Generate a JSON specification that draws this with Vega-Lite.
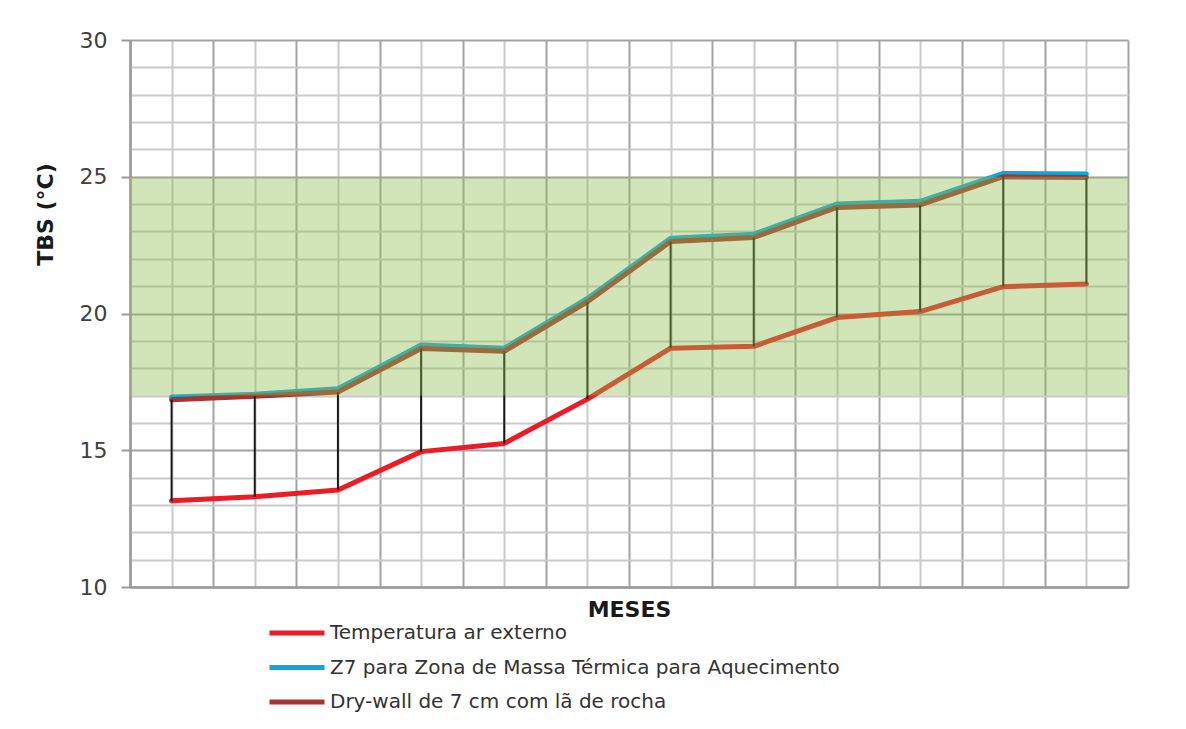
{
  "$schema": "https://vega.github.io/schema/vega-lite/v6.json",
  "autosize": "none",
  "width": 998,
  "height": 547,
  "padding": {"left": 130, "top": 40, "right": 58, "bottom": 142},
  "background": "white",
  "config": {
    "view": {"stroke": null},
    "font": "DejaVu Sans",
    "axis": {"labelOverlap": false}
  },
  "data": {
    "values": [
      {"mes": 1, "Temperatura ar externo": 13.15, "Z7 para Zona de Massa Térmica para Aquecimento": 16.95, "Dry-wall de 7 cm com lã de rocha": 16.85},
      {"mes": 2, "Temperatura ar externo": 13.3, "Z7 para Zona de Massa Térmica para Aquecimento": 17.05, "Dry-wall de 7 cm com lã de rocha": 16.97},
      {"mes": 3, "Temperatura ar externo": 13.55, "Z7 para Zona de Massa Térmica para Aquecimento": 17.25, "Dry-wall de 7 cm com lã de rocha": 17.13},
      {"mes": 4, "Temperatura ar externo": 14.95, "Z7 para Zona de Massa Térmica para Aquecimento": 18.85, "Dry-wall de 7 cm com lã de rocha": 18.72},
      {"mes": 5, "Temperatura ar externo": 15.25, "Z7 para Zona de Massa Térmica para Aquecimento": 18.73, "Dry-wall de 7 cm com lã de rocha": 18.62},
      {"mes": 6, "Temperatura ar externo": 16.87, "Z7 para Zona de Massa Térmica para Aquecimento": 20.55, "Dry-wall de 7 cm com lã de rocha": 20.43},
      {"mes": 7, "Temperatura ar externo": 18.73, "Z7 para Zona de Massa Térmica para Aquecimento": 22.75, "Dry-wall de 7 cm com lã de rocha": 22.63},
      {"mes": 8, "Temperatura ar externo": 18.8, "Z7 para Zona de Massa Térmica para Aquecimento": 22.9, "Dry-wall de 7 cm com lã de rocha": 22.78},
      {"mes": 9, "Temperatura ar externo": 19.85, "Z7 para Zona de Massa Térmica para Aquecimento": 24.0, "Dry-wall de 7 cm com lã de rocha": 23.88},
      {"mes": 10, "Temperatura ar externo": 20.07, "Z7 para Zona de Massa Térmica para Aquecimento": 24.1, "Dry-wall de 7 cm com lã de rocha": 23.97},
      {"mes": 11, "Temperatura ar externo": 20.98, "Z7 para Zona de Massa Térmica para Aquecimento": 25.12, "Dry-wall de 7 cm com lã de rocha": 25.0},
      {"mes": 12, "Temperatura ar externo": 21.08, "Z7 para Zona de Massa Térmica para Aquecimento": 25.1, "Dry-wall de 7 cm com lã de rocha": 24.97}
    ]
  },
  "layer": [
    {
      "transform": [
        {"fold": ["Temperatura ar externo", "Z7 para Zona de Massa Térmica para Aquecimento", "Dry-wall de 7 cm com lã de rocha"], "as": ["serie", "valor"]}
      ],
      "mark": {"type": "line", "strokeWidth": 5, "strokeCap": "round", "strokeJoin": "round"},
      "encoding": {
        "x": {
          "field": "mes", "type": "quantitative",
          "scale": {"domain": [0.5, 12.5], "nice": false, "zero": false},
          "axis": {
            "values": [0.5, 1, 1.5, 2, 2.5, 3, 3.5, 4, 4.5, 5, 5.5, 6, 6.5, 7, 7.5, 8, 8.5, 9, 9.5, 10, 10.5, 11, 11.5, 12, 12.5],
            "tickCount": 100,
            "labels": false, "ticks": false,
            "grid": true,
            "gridColor": {"condition": {"test": "floor(datum.value) != datum.value", "value": "#a3a3a6"}, "value": "#cacacc"},
            "gridWidth": 2,
            "domainColor": "#9a9a9d", "domainWidth": 2.5,
            "title": "MESES",
            "titleFont": "DejaVu Sans", "titleFontSize": 22, "titleFontWeight": "bold", "titleColor": "#1a1a1a",
            "titlePadding": 12
          }
        },
        "y": {
          "field": "valor", "type": "quantitative",
          "scale": {"domain": [10, 30], "nice": false, "zero": false},
          "axis": {
            "values": [10, 11, 12, 13, 14, 15, 16, 17, 18, 19, 20, 21, 22, 23, 24, 25, 26, 27, 28, 29, 30],
            "tickCount": 100,
            "format": "d",
            "labelExpr": "datum.value % 5 === 0 ? datum.label : ''",
            "labelOverlap": false,
            "labelFont": "DejaVu Sans", "labelFontSize": 22, "labelColor": "#404040", "labelPadding": 14,
            "grid": true,
            "gridColor": {"condition": {"test": "datum.value % 5 === 0", "value": "#a3a3a6"}, "value": "#cacacc"},
            "gridWidth": 2,
            "ticks": true, "tickSize": 9, "tickWidth": 2,
            "tickOpacity": {"condition": {"test": "datum.value % 5 === 0", "value": 1}, "value": 0},
            "tickColor": "#9a9a9d",
            "domainColor": "#9a9a9d", "domainWidth": 2.5,
            "title": "TBS (°C)",
            "titleFont": "DejaVu Sans", "titleFontSize": 22, "titleFontWeight": "bold", "titleColor": "#1a1a1a",
            "titleX": -85, "titleY": 174, "titleAngle": -90, "titleAlign": "center", "titleBaseline": "middle"
          }
        },
        "color": {
          "field": "serie", "type": "nominal",
          "scale": {
            "domain": ["Temperatura ar externo", "Z7 para Zona de Massa Térmica para Aquecimento", "Dry-wall de 7 cm com lã de rocha"],
            "range": ["#ed1c24", "#0ba8dd", "#a5342e"]
          },
          "legend": {
            "title": null,
            "orient": "none",
            "legendX": 157,
            "legendY": 583,
            "symbolType": "M-5.5,0H5.5",
            "symbolSize": 100,
            "symbolStrokeWidth": 5,
            "labelFont": "DejaVu Sans", "labelFontSize": 20, "labelColor": "#333333",
            "labelLimit": 0,
            "labelOffset": 23,
            "rowPadding": 14.5,
            "padding": 0
          }
        }
      }
    },
    {
      "mark": {"type": "rule", "color": "#1a1a1a", "strokeWidth": 2},
      "encoding": {
        "x": {"field": "mes", "type": "quantitative"},
        "y": {"field": "Temperatura ar externo", "type": "quantitative"},
        "y2": {"field": "Dry-wall de 7 cm com lã de rocha"}
      }
    },
    {
      "data": {"values": [{"inferior": 17, "superior": 25}]},
      "mark": {"type": "rect", "color": "#8fbf50", "opacity": 0.4},
      "encoding": {
        "y": {"field": "inferior", "type": "quantitative"},
        "y2": {"field": "superior"}
      }
    }
  ]
}
